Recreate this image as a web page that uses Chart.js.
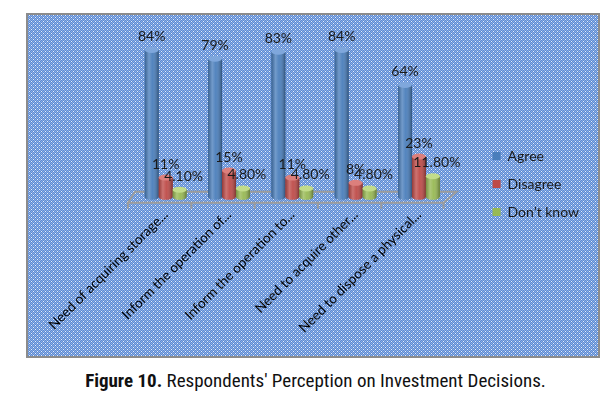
<!DOCTYPE html>
<html>
<head>
<meta charset="utf-8">
<script src="https://cdn.jsdelivr.net/npm/chart.js@4.4.1/dist/chart.umd.min.js"></script>
<style>
  html, body { margin: 0; padding: 0; background: #ffffff; }
  body { width: 615px; height: 399px; position: relative; overflow: hidden; }
  #frame { position: absolute; left: 26px; top: 13px; width: 570px; height: 341px; border: 2px solid #8c8c8c; }
  #frame canvas { display: block; }
  #caption { position: absolute; left: 8px; top: 369px; width: 615px; text-align: center; font-family: "Roboto Condensed", "Liberation Sans Narrow", Roboto, sans-serif; font-size: 19px; color: #111; white-space: nowrap; }
</style>
</head>
<body>
<div id="frame"><canvas id="c" width="570" height="341"></canvas></div>
<div id="caption"><b>Figure 10.</b> Respondents' Perception on Investment Decisions.</div>
<script>
// ---- data ----
const categories = [
  "Need of acquiring storage...",
  "Inform the operation of...",
  "Inform the operation to...",
  "Need to acquire other...",
  "Need to dispose a physical..."
];
const seriesNames = ["Agree", "Disagree", "Don\u2019t know"];
const agree = [84, 79, 83, 84, 64];
const disagree = [11, 15, 11, 8, 23];
const dontKnow = [4.1, 4.8, 4.8, 4.8, 11.8];
const labelDecimals = [0, 0, 2];
const seriesColors = ["#4a7ebb", "#be4b48", "#98b954"];
const seriesTopColors = ["#7fa7dc", "#dc7f7c", "#c2dc8a"];

// ---- background pattern ----
function makePattern(ctx) {
  const p = document.createElement('canvas');
  p.width = 4; p.height = 4;
  const pc = p.getContext('2d');
  pc.fillStyle = '#8fb0e2'; pc.fillRect(0, 0, 4, 4);
  pc.fillStyle = '#5b8ad6';
  pc.fillRect(0, 0, 1, 1); pc.fillRect(2, 0, 1, 1); pc.fillRect(1, 1, 1, 1); pc.fillRect(3, 1, 1, 1);
  pc.fillRect(0, 2, 1, 1); pc.fillRect(2, 2, 1, 1); pc.fillRect(1, 3, 1, 1); pc.fillRect(3, 3, 1, 1);
  pc.fillStyle = '#e8eff9';
  pc.fillRect(1, 0, 1, 1); pc.fillRect(3, 2, 1, 1);
  return ctx.createPattern(p, 'repeat');
}

const bgPlugin = {
  id: 'bgPattern',
  beforeDraw(chart) {
    const ctx = chart.ctx;
    ctx.save();
    ctx.fillStyle = makePattern(ctx);
    ctx.fillRect(0, 0, chart.width, chart.height);
    ctx.restore();
  }
};

const floorPlugin = {
  id: 'floor',
  beforeDatasetsDraw(chart) {
    const ctx = chart.ctx;
    const ca = chart.chartArea;
    const base = chart.scales.y.getPixelForValue(0);
    const L = ca.left, R = ca.right;
    const catW = (R - L) / categories.length;
    ctx.save();
    ctx.strokeStyle = '#9c9c9c';
    ctx.lineWidth = 2;
    ctx.beginPath();
    ctx.moveTo(L - 6, base + 6);
    ctx.lineTo(L + 1, base - 5);
    ctx.lineTo(R + 6, base - 5);
    ctx.lineTo(R - 7, base + 6);
    ctx.closePath();
    ctx.stroke();
    ctx.beginPath();
    for (let k = 0; k <= categories.length; k++) {
      const x = L + k * catW - 6 - (k === categories.length ? 1 : 0);
      ctx.moveTo(x, base + 6);
      ctx.lineTo(x, base + 12);
    }
    ctx.stroke();
    ctx.restore();
  }
};

const cylinderPlugin = {
  id: 'cylinder',
  afterDatasetsDraw(chart) {
    const ctx = chart.ctx;
    chart.data.datasets.forEach((ds, di) => {
      const meta = chart.getDatasetMeta(di);
      meta.data.forEach((bar, i) => {
        const {x, y, base, width} = bar.getProps(['x', 'y', 'base', 'width'], true);
        const l = x - width / 2, r = x + width / 2;
        const ry = Math.min(3, width / 4);
        ctx.save();
        ctx.beginPath();
        ctx.moveTo(l, y);
        ctx.lineTo(l, base);
        ctx.ellipse(x, base, width / 2, ry, 0, Math.PI, 0, true);
        ctx.lineTo(r, y);
        ctx.closePath();
        ctx.fillStyle = seriesColors[di];
        ctx.fill();
        const g = ctx.createLinearGradient(l, 0, r, 0);
        g.addColorStop(0, 'rgba(0,0,0,0.22)');
        g.addColorStop(0.3, 'rgba(255,255,255,0.22)');
        g.addColorStop(0.55, 'rgba(255,255,255,0.05)');
        g.addColorStop(1, 'rgba(0,0,0,0.35)');
        ctx.fillStyle = g;
        ctx.fill();
        ctx.beginPath();
        ctx.ellipse(x, y, width / 2, ry, 0, 0, Math.PI * 2);
        ctx.fillStyle = seriesTopColors[di];
        ctx.fill();
        ctx.restore();
      });
    });
  }
};

const labelPlugin = {
  id: 'valueLabels',
  afterDatasetsDraw(chart) {
    const ctx = chart.ctx;
    ctx.save();
    ctx.font = '14px Lato, "Open Sans", sans-serif';
    ctx.fillStyle = '#1a1a1a';
    ctx.textAlign = 'center';
    ctx.textBaseline = 'alphabetic';
    chart.data.datasets.forEach((ds, di) => {
      const meta = chart.getDatasetMeta(di);
      meta.data.forEach((bar, i) => {
        const {x, y} = bar.getProps(['x', 'y'], true);
        const v = ds.data[i];
        const txt = v.toFixed(labelDecimals[di]) + '%';
        ctx.fillText(txt, x + (di === 2 ? 4 : 0), y - 9);
      });
    });
    ctx.restore();
  }
};

new Chart(document.getElementById('c'), {
  type: 'bar',
  data: {
    labels: categories,
    datasets: [
      { label: seriesNames[0], data: agree, backgroundColor: seriesColors[0] },
      { label: seriesNames[1], data: disagree, backgroundColor: seriesColors[1] },
      { label: seriesNames[2], data: dontKnow, backgroundColor: seriesColors[2] }
    ]
  },
  options: {
    responsive: false,
    animation: false,
    devicePixelRatio: 1,
    datasets: { bar: { categoryPercentage: 0.66, barPercentage: 1.0, borderWidth: 0 } },
    layout: { padding: { left: 106, top: 7, right: 9, bottom: 10 } },
    scales: {
      x: {
        grid: { display: false, drawTicks: false },
        border: { display: false },
        ticks: {
          minRotation: 45, maxRotation: 45, padding: 10,
          color: '#000000',
          font: { family: 'Lato, "Open Sans", sans-serif', size: 13.5 }
        }
      },
      y: {
        position: 'right',
        min: 0, max: 100,
        grid: { display: false, drawTicks: false },
        border: { display: false },
        ticks: { display: false },
        afterFit(scale) { scale.width = 28; }
      }
    },
    plugins: {
      tooltip: { enabled: false },
      legend: {
        position: 'right',
        labels: {
          boxWidth: 8, boxHeight: 8, padding: 14,
          color: '#1a1a1a',
          font: { family: 'Lato, "Open Sans", sans-serif', size: 14 }
        }
      }
    }
  },
  plugins: [bgPlugin, floorPlugin, cylinderPlugin, labelPlugin]
});
</script>
</body>
</html>
